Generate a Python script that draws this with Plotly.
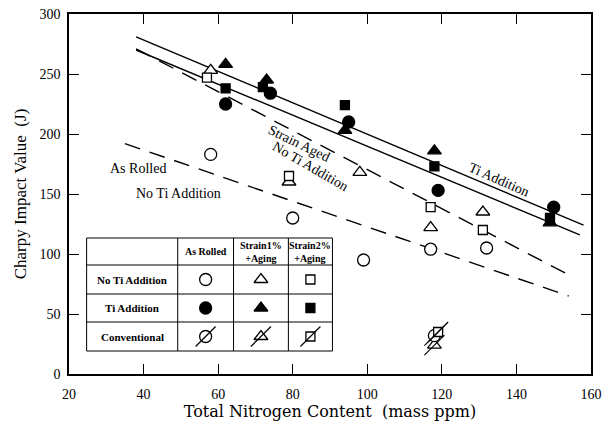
import plotly.graph_objects as go

# ---- Charpy impact value (J) versus total nitrogen content (mass ppm) ----
# No Ti addition (open symbols)
nti_rolled_n = [58, 80, 99, 117, 132]
nti_rolled_j = [183, 130, 95, 104, 105]
nti_s1_n = [58, 79, 98, 117, 131]
nti_s1_j = [253, 160, 168, 122, 135]
nti_s2_n = [57, 79, 117, 131]
nti_s2_j = [247, 165, 139, 120]

# Ti addition (filled symbols)
ti_rolled_n = [62, 74, 95, 119, 150]
ti_rolled_j = [225, 234, 210, 153, 139]
ti_s1_n = [62, 73, 94, 118, 149]
ti_s1_j = [258, 245, 203, 186, 126]
ti_s2_n = [62, 72, 94, 118, 149]
ti_s2_j = [238, 239, 224, 173, 130]

# Conventional steel (slashed symbols)
conv_rolled_n = [118]
conv_rolled_j = [32]
conv_s1_n = [118]
conv_s1_j = [24]
conv_s2_n = [119]
conv_s2_j = [35]

# Trend lines (end points)
ti_upper_n = [38, 158]
ti_upper_j = [281, 124]
ti_lower_n = [38, 157]
ti_lower_j = [270, 116]
sa_nti_n = [38, 155]
sa_nti_j = [271, 81]
ar_nti_n = [35, 154]
ar_nti_j = [192, 65]

# Key table text
table_rows = ["No Ti Addition", "Ti Addition", "Conventional"]
table_cols = ["As Rolled", "Strain1%<br>+Aging", "Strain2%<br>+Aging"]

x_ticks = [20, 40, 60, 80, 100, 120, 140, 160]
y_ticks = [0, 50, 100, 150, 200, 250, 300]

SERIF = "Liberation Serif"
INK = "black"

# plot area in page pixels
L, R, T, B = 69, 602, 14, 374
W, H = 605, 427


def pxx(x):
    return (x - L) / (R - L)


def pxy(y):
    return (B - y) / (B - T)


fig = go.Figure()

# trend lines
for xs, ys, dash in [
    (ti_upper_n, ti_upper_j, "solid"),
    (ti_lower_n, ti_lower_j, "solid"),
    (sa_nti_n, sa_nti_j, "16px,10px"),
    (ar_nti_n, ar_nti_j, "16px,10px"),
]:
    fig.add_trace(go.Scatter(x=xs, y=ys, mode="lines",
                             line=dict(color=INK, width=1.4, dash=dash),
                             hoverinfo="skip", showlegend=False))

SYM = {"rolled": ("circle", 12), "s1": ("triangle-up", 12), "s2": ("square", 9)}


def marks(xs, ys, kind, filled, xa="x", ya="y"):
    sym, size = SYM[kind]
    fig.add_trace(go.Scatter(
        x=xs, y=ys, mode="markers", xaxis=xa, yaxis=ya,
        marker=dict(symbol=sym, size=size,
                    color=INK if filled else "white",
                    line=dict(color=INK, width=1.3)),
        showlegend=False, hoverinfo="skip"))


def slash(xs, ys, xa="x", ya="y"):
    fig.add_trace(go.Scatter(
        x=xs, y=ys, mode="markers", xaxis=xa, yaxis=ya,
        marker=dict(symbol="line-ne", size=20, color=INK,
                    line=dict(color=INK, width=1.2)),
        showlegend=False, hoverinfo="skip"))


# data markers
marks(nti_rolled_n, nti_rolled_j, "rolled", False)
marks(nti_s1_n, nti_s1_j, "s1", False)
marks(nti_s2_n, nti_s2_j, "s2", False)
marks(ti_s2_n, ti_s2_j, "s2", True)
marks(ti_s1_n, ti_s1_j, "s1", True)
marks(ti_rolled_n, ti_rolled_j, "rolled", True)
marks(conv_s1_n, conv_s1_j, "s1", False)
marks(conv_rolled_n, conv_rolled_j, "rolled", False)
marks(conv_s2_n, conv_s2_j, "s2", False)
slash(conv_s1_n, conv_s1_j)
slash(conv_rolled_n, conv_rolled_j)
slash(conv_s2_n, conv_s2_j)

# ---- key table (drawn in page pixels) ----
col_edges = [87, 180, 237, 293, 338]
row_edges = [238, 265, 294, 322, 351]
shapes = []
shapes.append(dict(type="rect", xref="paper", yref="paper",
                   x0=pxx(col_edges[0]), x1=pxx(col_edges[-1]),
                   y0=pxy(row_edges[0]), y1=pxy(row_edges[-1]),
                   line=dict(color=INK, width=1), layer="above"))
for cx in col_edges[1:-1]:
    shapes.append(dict(type="line", xref="paper", yref="paper",
                       x0=pxx(cx), x1=pxx(cx), y0=pxy(row_edges[0]), y1=pxy(row_edges[-1]),
                       line=dict(color=INK, width=1), layer="above"))
for ry in row_edges[1:-1]:
    shapes.append(dict(type="line", xref="paper", yref="paper",
                       x0=pxx(col_edges[0]), x1=pxx(col_edges[-1]), y0=pxy(ry), y1=pxy(ry),
                       line=dict(color=INK, width=1), layer="above"))

col_mid = [(col_edges[i] + col_edges[i + 1]) / 2 for i in range(4)]
row_mid = [(row_edges[i] + row_edges[i + 1]) / 2 for i in range(4)]

annotations = []
for i, t in enumerate(table_cols):
    annotations.append(dict(xref="paper", yref="paper", x=pxx(col_mid[i + 1]), y=pxy(row_mid[0]),
                            xanchor="center", yanchor="middle",
                            text="<b>%s</b>" % t, showarrow=False,
                            font=dict(family=SERIF, size=10, color=INK), align="center"))
for j, t in enumerate(table_rows):
    annotations.append(dict(xref="paper", yref="paper", x=pxx(col_mid[0]), y=pxy(row_mid[j + 1]),
                            xanchor="center", yanchor="middle",
                            text="<b>%s</b>" % t, showarrow=False,
                            font=dict(family=SERIF, size=11, color=INK)))

# key symbols, placed on an overlay axis that spans the plot area in 0..1
kinds = ["rolled", "s1", "s2"]
for j in range(3):
    for i, k in enumerate(kinds):
        kx = [pxx(col_mid[i + 1])]
        ky = [pxy(row_mid[j + 1])]
        if j == 0:
            marks(kx, ky, k, False, "x2", "y2")
        elif j == 1:
            marks(kx, ky, k, True, "x2", "y2")
        else:
            marks(kx, ky, k, False, "x2", "y2")
            slash(kx, ky, "x2", "y2")

# curve labels
lab_font = dict(family=SERIF, size=14, color=INK)
annotations += [
    dict(x=38.4, y=171.5, text="As Rolled", showarrow=False, font=lab_font),
    dict(x=49.5, y=150.5, text="No Ti Addition", showarrow=False, font=lab_font),
    dict(x=81.7, y=192.5, text="Strain Aged", showarrow=False, font=lab_font, textangle=26),
    dict(x=84.8, y=173.0, text="No Ti Addition", showarrow=False, font=lab_font, textangle=30),
    dict(x=135.2, y=162.5, text="Ti Addition", showarrow=False, font=lab_font, textangle=24),
]

axis_common = dict(showline=True, linecolor=INK, linewidth=1.6, mirror="allticks",
                   ticks="inside", ticklen=10, tickwidth=1.4, tickcolor=INK,
                   showgrid=False, zeroline=False, ticklabeloverflow="allow",
                   tickfont=dict(family=SERIF, size=14, color=INK))

fig.update_layout(
    width=W, height=H,
    margin=dict(l=L, r=W - R, t=T, b=H - B),
    paper_bgcolor="white", plot_bgcolor="white",
    showlegend=False,
    xaxis=dict(range=[20, 160], tickvals=x_ticks, ticklabelstandoff=6,
               title=dict(text="Total Nitrogen Content  (mass ppm)", standoff=4,
                          font=dict(family="DejaVu Serif", size=16, color=INK)),
               **axis_common),
    yaxis=dict(range=[0, 300], tickvals=y_ticks, ticklabelstandoff=4,
               title=dict(text="Charpy Impact Value  (J)", standoff=8,
                          font=dict(family=SERIF, size=17, color=INK)),
               **axis_common),
    xaxis2=dict(overlaying="x", range=[0, 1], visible=False, fixedrange=True),
    yaxis2=dict(overlaying="y", range=[0, 1], visible=False, fixedrange=True),
    shapes=shapes,
    annotations=annotations,
)

fig.write_html("out.html")
